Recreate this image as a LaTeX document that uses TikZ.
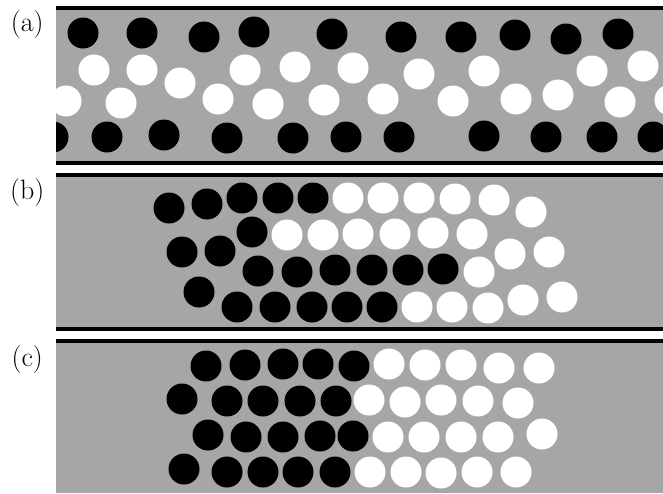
\documentclass[tikz,border=0pt]{standalone}
\begin{document}
\begin{tikzpicture}[x=1pt,y=-1pt,
  lab/.style={font=\fontsize{28}{32}\selectfont,inner sep=0pt},
  bar/.style={fill=black},
  chan/.style={fill=black!35},
  bk/.style={fill=black},
  wh/.style={fill=white}]
\useasboundingbox (0,0) rectangle (663,493);
% labels
\node[lab] (la) at (27.3,25) {(a)};
\node[lab] (lb) at (27.3,193) {(b)};
\node[lab] (lc) at (27.3,359.5) {(c)};
% panel (a)
\fill[bar] (56,6) rectangle (663,10);
\fill[chan] (56,10) rectangle (663,161);
\fill[bar] (56,161) rectangle (663,164.5);
\begin{scope}
\clip (56,10) rectangle (663,161);
\foreach \p in {(83,33),(142,33),(204,37),(254,32),(332,34),(401,37),(461,37),(515,35),(566,39),(618,34),
  (53,137),(107,137),(164,135),(227,138),(293,138),(346,137),(399,137),(484,136),(546,137),(602,137),(653,137)}
  \fill[bk] \p circle[radius=15.5pt];
\foreach \p in {(94,70),(142,70),(180,83),(245,70),(295,67),(353,68),(419,74),(484,71),(592,71),(643,66),
  (66,101),(121,103),(218,99),(268,104),(324,100),(383,99),(453,101),(516,99),(558,95),(620,102),(670,100)}
  \fill[wh] \p circle[radius=15.5pt];
\end{scope}
% panel (b)
\fill[bar] (56,173.3) rectangle (663,176.7);
\fill[chan] (56,176.7) rectangle (663,326.7);
\fill[bar] (56,326.7) rectangle (663,330.7);
\begin{scope}
\clip (56,176.7) rectangle (663,326.7);
\foreach \p in {(169,208),(207,204),(242,198),(278,198),(313,198),(252,232),(182,252),(220,251),
  (258,271),(297,272),(335,270),(372,270),(408,270),(443,269),(199,292),
  (237,307),(275,307),(312,307),(347,307),(382,307)}
  \fill[bk] \p circle[radius=15.5pt];
\foreach \p in {(348,198),(383,198),(419,198),(455,199),(494,200),(531,212),
  (287,235),(323,235),(358,234),(395,234),(433,233),(472,234),(510,254),(549,252),
  (479,272),(417,307),(452,307),(488,308),(523,300),(562,297)}
  \fill[wh] \p circle[radius=15.5pt];
\end{scope}
% panel (c)
\fill[bar] (56,339) rectangle (663,342.7);
\fill[chan] (56,342.7) rectangle (663,493);
\begin{scope}
\clip (56,342.7) rectangle (663,493);
\foreach \p in {(206,366),(245,365),(283,364),(318,364),(354,366),
  (182,399),(227,401),(263,401),(300,401),(336,401),
  (208,435),(246,437),(283,437),(320,436),(353,436),
  (184,469),(227,472),(263,472),(298,472),(335,472)}
  \fill[bk] \p circle[radius=15.5pt];
\foreach \p in {(389,364),(425,365),(461,365),(499,368),(539,368),
  (369,400),(405,402),(441,400),(478,401),(518,403),
  (388,437),(424,437),(461,437),(498,437),(542,434),
  (370,472),(406,472),(441,473),(477,472),(516,472)}
  \fill[wh] \p circle[radius=15.5pt];
\end{scope}
\end{tikzpicture}
\end{document}
